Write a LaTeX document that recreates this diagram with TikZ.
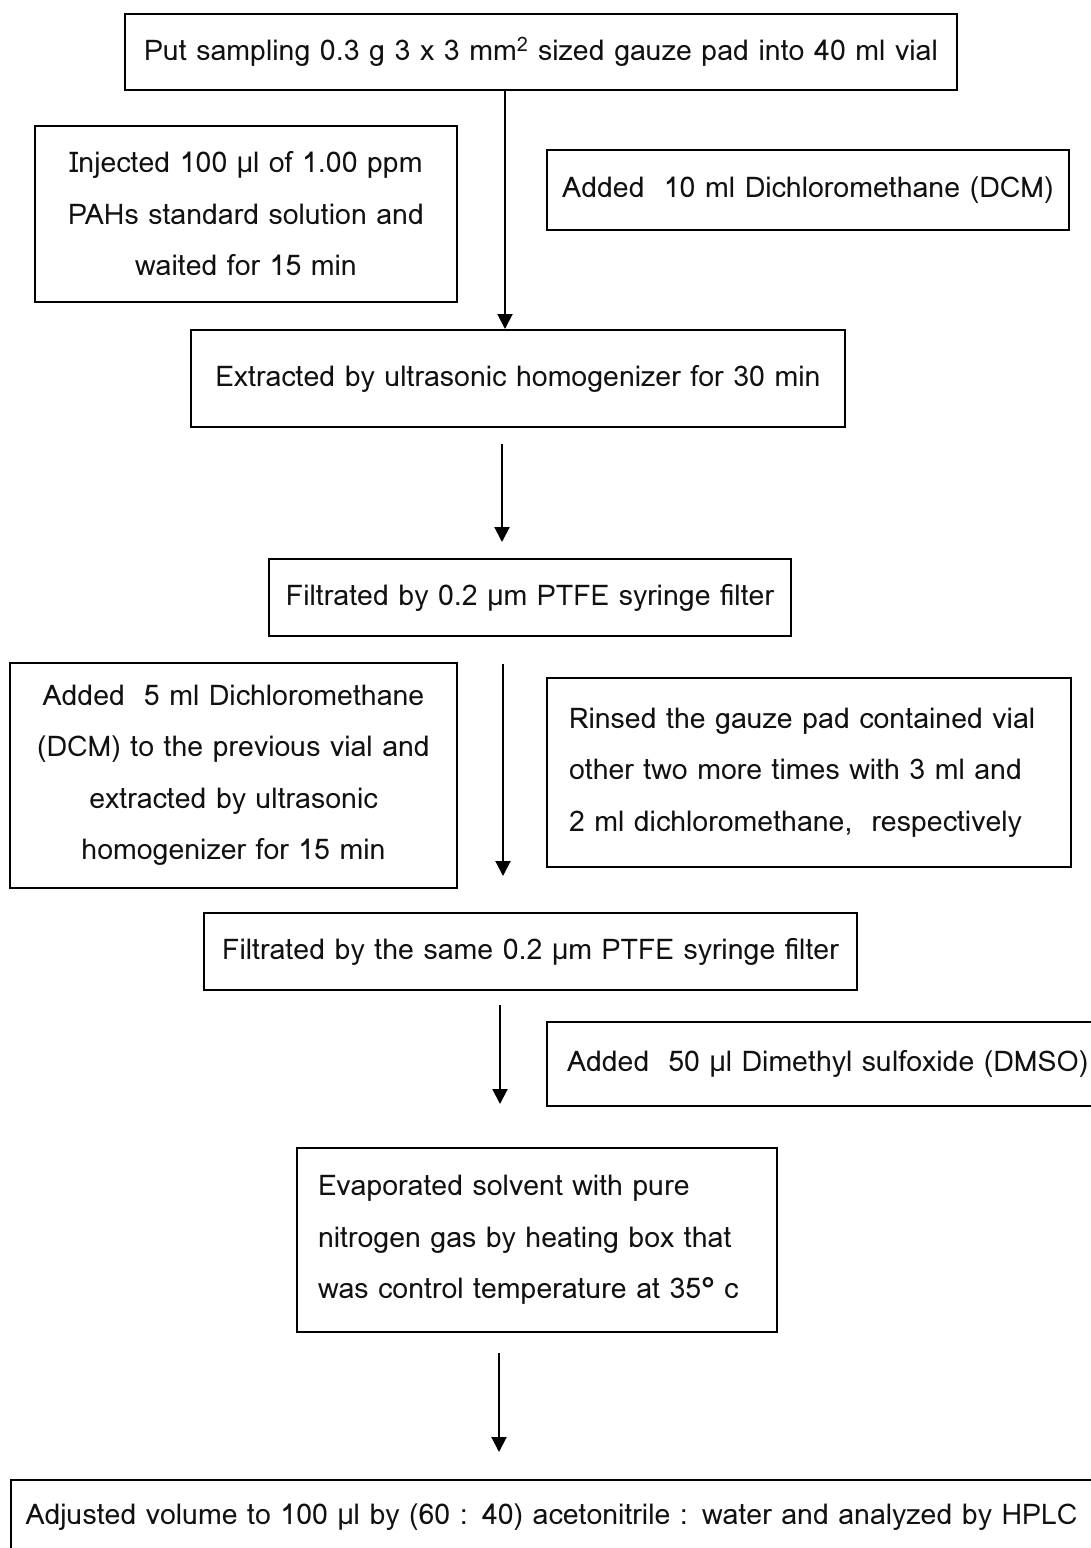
\documentclass[tikz,border=0pt]{standalone}
\usepackage{fontspec}
\setmainfont{Loma}
\usepackage{tikz}
\usetikzlibrary{arrows.meta,positioning}
\definecolor{boxline}{HTML}{000000}
\definecolor{inktext}{HTML}{111111}

\begin{document}
\begin{tikzpicture}[x=1pt,y=-1pt,
  font=\fontsize{28.5pt}{51.5pt}\selectfont,
  box/.style={draw=boxline,line width=2pt,inner sep=0pt,text=inktext},
  flow/.style={-{Triangle[width=15pt,length=15pt]},line width=2pt,draw=boxline}]
  \clip (0,0) rectangle (1091,1548);
  \node[box,minimum width=832pt,minimum height=76pt] (put) at (541,52) {Put sampling 0.3 g 3 x 3 mm\textsuperscript{2} sized gauze pad into 40 ml vial};
  \node[box,minimum width=422pt,minimum height=176pt,text width=410pt,align=center] (inject) at (246,214) {Injected 100 µl of 1.00 ppm\\PAHs standard solution and\\waited for 15 min};
  \node[box,minimum width=522pt,minimum height=80pt] (dcm) at (808,190) {Added\ \ 10 ml Dichloromethane (DCM)};
  \node[box,minimum width=654pt,minimum height=97pt] (extract) at (518,378.5) {Extracted by ultrasonic homogenizer for 30 min};
  \node[box,minimum width=522pt,minimum height=77pt] (filter) at (530,597.5) {Filtrated by 0.2 µm PTFE syringe filter};
  \node[box,minimum width=447pt,minimum height=225pt,text width=435pt,align=center] (addmore) at (233.5,775.5) {Added\ \ 5 ml Dichloromethane\\(DCM) to the previous vial and\\extracted by ultrasonic\\homogenizer for 15 min};
  \node[box,minimum width=524pt,minimum height=189pt,text width=480pt,align=left] (rinse) at (809,772.5) {Rinsed the gauze pad contained vial\\other two more times with 3 ml and\\2 ml dichloromethane,\ \ respectively};
  \node[box,minimum width=653pt,minimum height=77pt] (refilter) at (530.5,951.5) {Filtrated by the same 0.2 µm PTFE syringe filter};
  \node[box,minimum width=573pt,minimum height=84pt,text width=533pt,align=left] (dmso) at (833.5,1064) {Added\ \ 50 µl Dimethyl sulfoxide (DMSO)};
  \node[box,minimum width=480pt,minimum height=184pt,text width=438pt,align=left] (evap) at (537,1240) {Evaporated solvent with pure\\nitrogen gas by heating box that\\was control temperature at 35° c};
  \node[box,minimum width=1089pt,minimum height=75pt,text width=1060pt,align=left] (adjust) at (555.5,1517.5) {Adjusted volume to 100 µl by (60 : 40) acetonitrile : water and analyzed by HPLC};
  % main line
  \draw[flow] (put.south -| 505,0) -- (extract.north -| 505,0);
  \draw[flow,shorten <=16pt,shorten >=16pt] (extract.south -| 502,0) -- (filter.north -| 502,0);
  \draw[flow,shorten <=27pt,shorten >=36pt] (filter.south -| 503,0) -- (refilter.north -| 503,0);
  \draw[flow,shorten <=14pt,shorten >=43pt] (refilter.south -| 500,0) -- (evap.north -| 500,0);
  \draw[flow,shorten <=20pt,shorten >=27pt] (evap.south -| 499,0) -- (adjust.north -| 499,0);
\end{tikzpicture}
\end{document}
